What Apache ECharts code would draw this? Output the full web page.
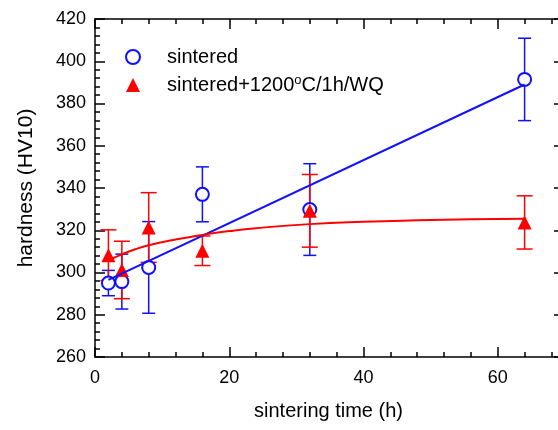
<!DOCTYPE html>
<html>
<head>
<meta charset="utf-8">
<script src="https://cdn.jsdelivr.net/npm/echarts@6/dist/echarts.min.js"></script>
<style>html,body{margin:0;padding:0;background:#fff;}#c{width:558px;height:430px;}</style>
</head>
<body>
<div id="c"></div>
<script>
// sintering time (h)
const times = [2, 4, 8, 16, 32, 64];
// sintered
const sintered = [295.0, 295.7, 302.4, 337.0, 329.8, 391.4];
const sinteredErr = [6, 13, 21.7, 13, 21.7, 19.5];
// sintered+1200°C/1h/WQ
const wq = [308.2, 301.2, 321.3, 310.3, 329.2, 323.7];
const wqErr = [12, 13.6, 16.5, 7, 17.2, 12.6];
// fitted lines
const blueFitX = [2, 64];
const blueFitY = [296.5, 389.0];
const redFitX = [2, 4, 6, 8, 12, 16, 20, 24, 32, 40, 48, 56, 64];
const redFitY = [305.8, 308.6, 311.0, 312.9, 315.6, 317.8, 319.6, 321.0, 322.9, 324.0, 324.7, 325.2, 325.5];
const xTicks = [0, 20, 40, 60];
const yTicks = [260, 280, 300, 320, 340, 360, 380, 400, 420];

const BLUE = '#1010ff', RED = '#ff0000';
const FONT = 'Liberation Sans';
const nameS = 'sintered', nameW = 'sintered+1200°C/1h/WQ';

function errRender(halfCap) {
  return function (params, api) {
    const x = api.value(0), lo = api.value(1), hi = api.value(2);
    const p1 = api.coord([x, hi]), p2 = api.coord([x, lo]);
    const st = { stroke: api.visual('color'), lineWidth: 1.5 };
    return {
      type: 'group',
      children: [
        { type: 'line', shape: { x1: p1[0], y1: p1[1], x2: p2[0], y2: p2[1] }, style: st },
        { type: 'line', shape: { x1: p1[0] - halfCap, y1: p1[1], x2: p1[0] + halfCap, y2: p1[1] }, style: st },
        { type: 'line', shape: { x1: p2[0] - halfCap, y1: p2[1], x2: p2[0] + halfCap, y2: p2[1] }, style: st }
      ]
    };
  };
}

const axisCommon = {
  axisLine: { onZero: false, lineStyle: { color: '#000', width: 1.5 } },
  axisTick: { inside: true, length: 10, lineStyle: { color: '#000', width: 1.5 } },
  minorTick: { show: true, splitNumber: 5, length: 5, lineStyle: { color: '#000', width: 1.5 } },
  splitLine: { show: false }
};

const chart = echarts.init(document.getElementById('c'), null, { renderer: 'canvas' });
chart.setOption({
  animation: false,
  backgroundColor: '#fff',
  grid: { left: 95, top: 19, width: 537, height: 338, containLabel: false, outerBoundsMode: 'none' },
  legend: {
    orient: 'vertical', left: 120, top: 42,
    itemWidth: 14, itemHeight: 14, itemGap: 7,
    data: [nameS, nameW],
    textStyle: {
      fontFamily: FONT, fontSize: 20, color: '#000', padding: [0, 0, 0, 22],
      rich: {
        a: { fontFamily: FONT, fontSize: 20, color: '#000' },
        s: { fontFamily: FONT, fontSize: 13, color: '#000', padding: [0, 0, 9, 0] }
      }
    },
    formatter: function (n) {
      if (n === nameW) return '{a|sintered+1200}{s|o}{a|C/1h/WQ}';
      return n;
    }
  },
  xAxis: [
    Object.assign({
      type: 'value', min: 0, max: 80, interval: 20, position: 'bottom',
      axisLabel: {
        color: '#000', fontSize: 18, fontFamily: FONT, margin: 12,
        formatter: v => (xTicks.indexOf(v) >= 0 ? String(v) : '')
      },
      name: 'sintering time (h)', nameLocation: 'middle', nameGap: 44,
      nameTextStyle: { color: '#000', fontSize: 20, fontFamily: FONT, align: 'center', padding: [0, 70, 0, 0] }
    }, axisCommon),
    Object.assign({
      type: 'value', min: 0, max: 80, interval: 20, position: 'top',
      axisLabel: { show: false }
    }, axisCommon)
  ],
  yAxis: [
    Object.assign({
      type: 'value', min: 260, max: 420, interval: 20, position: 'left',
      axisLabel: {
        color: '#000', fontSize: 18, fontFamily: FONT, margin: 9,
        formatter: v => (yTicks.indexOf(v) >= 0 ? String(v) : '')
      },
      name: 'hardness (HV10)', nameLocation: 'middle', nameGap: 58,
      nameTextStyle: { color: '#000', fontSize: 21, fontFamily: FONT }
    }, axisCommon),
    Object.assign({
      type: 'value', min: 260, max: 420, interval: 20, position: 'right', offset: -68,
      axisLabel: { show: false }
    }, axisCommon)
  ],
  series: [
    {
      name: 'blueFit', type: 'line', xAxisIndex: 0, yAxisIndex: 0,
      data: blueFitX.map((x, i) => [x, blueFitY[i]]),
      showSymbol: false, symbol: 'none', silent: true,
      lineStyle: { color: BLUE, width: 2 }
    },
    {
      name: 'blueErr', type: 'custom', xAxisIndex: 0, yAxisIndex: 0,
      itemStyle: { color: BLUE },
      data: times.map((t, i) => [t, sintered[i] - sinteredErr[i], sintered[i] + sinteredErr[i]]),
      encode: { x: 0, y: [1, 2] },
      renderItem: errRender(6.5), silent: true
    },
    {
      name: nameS, type: 'scatter', xAxisIndex: 0, yAxisIndex: 0,
      data: times.map((t, i) => [t, sintered[i]]),
      symbol: 'emptyCircle', symbolSize: 13,
      itemStyle: { color: BLUE, borderColor: BLUE, borderWidth: 1.6, opacity: 1 }
    },
    {
      name: 'redFit', type: 'line', xAxisIndex: 0, yAxisIndex: 0,
      data: redFitX.map((x, i) => [x, redFitY[i]]),
      showSymbol: false, symbol: 'none', smooth: true, silent: true,
      lineStyle: { color: RED, width: 2 }
    },
    {
      name: 'redErr', type: 'custom', xAxisIndex: 0, yAxisIndex: 0,
      itemStyle: { color: RED },
      data: times.map((t, i) => [t, wq[i] - wqErr[i], wq[i] + wqErr[i]]),
      encode: { x: 0, y: [1, 2] },
      renderItem: errRender(8), silent: true
    },
    {
      name: nameW, type: 'scatter', xAxisIndex: 0, yAxisIndex: 0,
      data: times.map((t, i) => [t, wq[i]]),
      symbol: 'triangle', symbolSize: 14,
      itemStyle: { color: RED, opacity: 1 }
    }
  ]
});
</script>
</body>
</html>
